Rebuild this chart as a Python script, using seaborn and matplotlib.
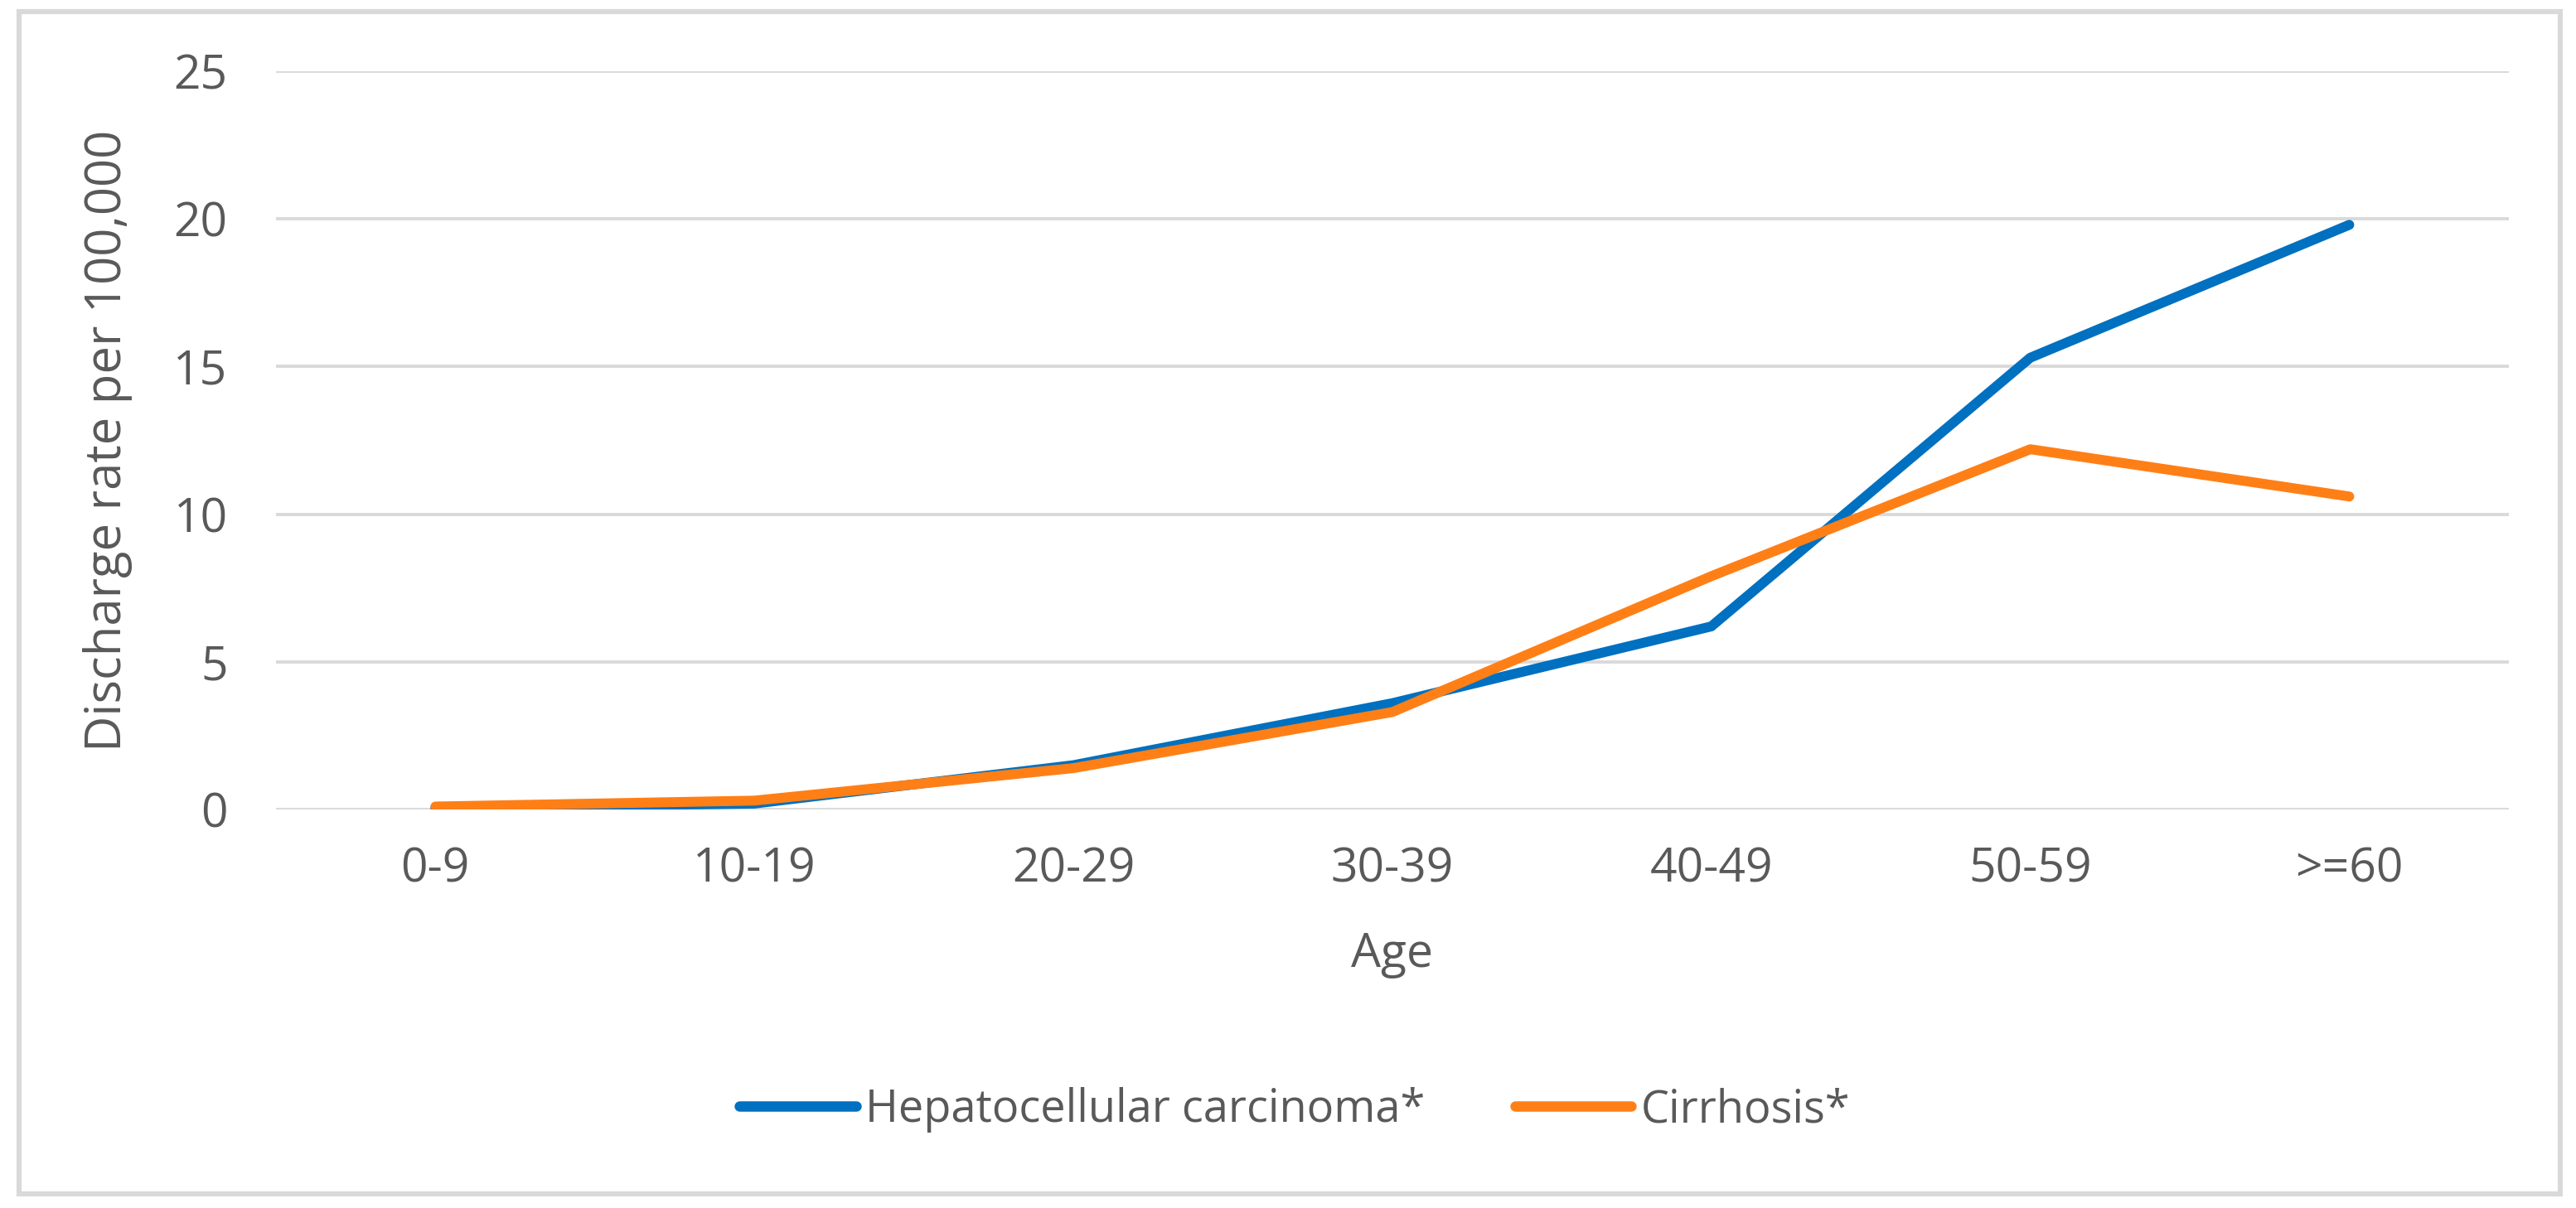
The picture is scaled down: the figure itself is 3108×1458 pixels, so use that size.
import pandas as pd
import seaborn as sns
import matplotlib.pyplot as plt
from matplotlib.patches import Rectangle

# values
age_groups = ['0-9', '10-19', '20-29', '30-39', '40-49', '50-59', '>=60']
hcc_rate = [0.05, 0.2, 1.5, 3.6, 6.2, 15.3, 19.8]
cirrhosis_rate = [0.1, 0.3, 1.4, 3.3, 7.9, 12.2, 10.6]
series_names = ['Hepatocellular carcinoma*', 'Cirrhosis*']
y_ticks = [0, 5, 10, 15, 20, 25]

df = pd.DataFrame({
    'Age': age_groups * 2,
    'rate': hcc_rate + cirrhosis_rate,
    'series': [series_names[0]] * len(age_groups) + [series_names[1]] * len(age_groups),
})

sns.set_theme(style='white')
plt.rcParams['font.family'] = ['Open Sans', 'DejaVu Sans']
txt_color = '#595959'
grid_color = '#D9D9D9'

fig = plt.figure(figsize=(15.54, 7.29), dpi=200)
ax = fig.add_axes([0.1071, 0.3299, 0.8668, 0.6111])

sns.lineplot(data=df, x='Age', y='rate', hue='series', sort=False,
             palette=['#0070C0', '#FF7F17'], linewidth=4.3, ax=ax,
             solid_capstyle='round', solid_joinstyle='round')

ax.set_xlim(-0.5, len(age_groups) - 0.5)
ax.set_ylim(0, 25)
ax.set_yticks(y_ticks)
ax.grid(axis='y', color=grid_color, linewidth=1.4)
ax.set_axisbelow(True)
for s in ax.spines.values():
    s.set_visible(False)

ax.tick_params(axis='both', length=0, labelsize=20.5, labelcolor=txt_color)
ax.tick_params(axis='y', pad=21)
ax.tick_params(axis='x', pad=16)

ax.set_xlabel('Age', fontsize=20.5, color=txt_color)
ax.xaxis.set_label_coords(0.5, -0.165)
ax.set_ylabel('Discharge rate per 100,000', fontsize=21.5, color=txt_color)
ax.yaxis.set_label_coords(-0.064, 0.5)

leg = ax.legend(loc='center', bbox_to_anchor=(0.5026, 0.081),
                bbox_transform=fig.transFigure, ncol=2, frameon=False,
                fontsize=19.5, handlelength=2.6, handletextpad=0.2,
                columnspacing=2.0)
for t in leg.get_texts():
    t.set_color(txt_color)
for h in leg.get_lines():
    h.set_linewidth(4.5)

# light grey chart-area border
fig.patches.append(Rectangle((0.0074, 0.0117), 0.9865, 0.979,
                             transform=fig.transFigure, fill=False,
                             edgecolor=grid_color, linewidth=2.2))

fig.savefig('out.png', dpi=200, facecolor='white')
